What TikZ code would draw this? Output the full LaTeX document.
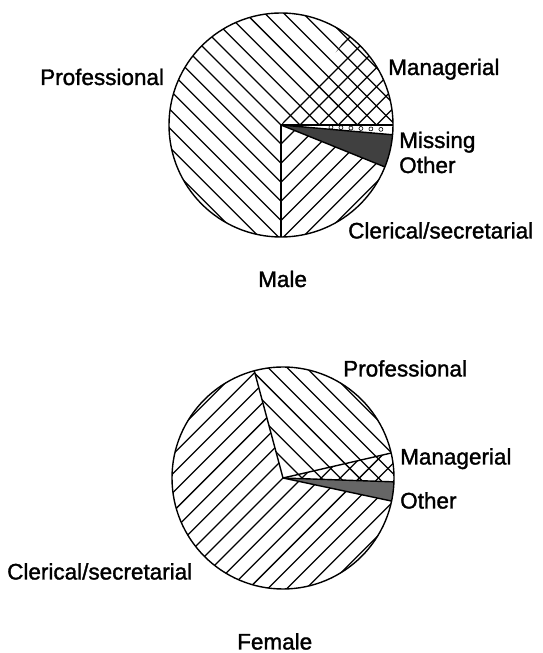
\documentclass[tikz,border=0pt]{standalone}
\usepackage{fontspec}
\setmainfont{Liberation Sans}[UprightFeatures={FakeBold=1.5}]
\usepackage{tikz}
\tikzset{
    every node/.style={font=\fontsize{22.5}{27}\selectfont, inner sep=0pt, anchor=base west},
    rim/.style={line width=1.4pt},
    hatch/.style={line width=1.25pt},
    dotmark/.style={line width=0.6pt, fill=white}
}

\begin{document}
\begin{tikzpicture}[x=1pt,y=1pt]
    \useasboundingbox (0,0) rectangle (543,653);

    % Male pie
    \coordinate (mc) at (281,528);
    % professional (\\ lines)
    \begin{scope}
        \clip (mc) -- ++(53:112) arc[start angle=53,end angle=270,radius=112] -- cycle;
        \foreach \k in {-12,...,12}
            \draw[hatch,shift={(mc)}] (45:{\k*13.5}) ++(135:130) -- ++(-45:260);
    \end{scope}
    % managerial (crosshatch)
    \begin{scope}
        \clip (mc) -- ++(0:112) arc[start angle=0,end angle=53,radius=112] -- cycle;
        \foreach \k in {-12,...,12} {
            \draw[hatch,shift={(mc)}] (45:{\k*13.5}) ++(135:130) -- ++(-45:260);
            \draw[hatch,shift={(mc)}] (135:{\k*13.5}) ++(225:130) -- ++(45:260);
        }
    \end{scope}
    % clerical/secretarial (/ lines)
    \begin{scope}
        \clip (mc) -- ++(270:112) arc[start angle=270,end angle=338,radius=112] -- cycle;
        \foreach \k in {-12,...,12}
            \draw[hatch,shift={(mc)}] (135:{\k*13.5}) ++(225:130) -- ++(45:260);
    \end{scope}
    % other
    \fill[black!75] (mc) -- ++(338:112) arc[start angle=338,end angle=355,radius=112] -- cycle;
    % missing (dots)
    \foreach \r in {50,60,...,105}
        \draw[dotmark,shift={(mc)}] (-2.5:\r) circle (2);
    \draw[rim] (mc) -- ++(0:112);
    \draw[rim] (mc) -- ++(355:112);
    \draw[rim] (mc) -- ++(338:112);
    \draw[rim] (mc) -- ++(270:112);
    \draw[rim] (mc) circle (112);

    % Female pie
    \coordinate (fc) at (283,175);
    % professional (\\ lines)
    \begin{scope}
        \clip (fc) -- ++(13:111) arc[start angle=13,end angle=105,radius=111] -- cycle;
        \foreach \k in {-12,...,12}
            \draw[hatch,shift={(fc)}] (45:{\k*13.5}) ++(135:130) -- ++(-45:260);
    \end{scope}
    % managerial (crosshatch)
    \begin{scope}
        \clip (fc) -- ++(-2:111) arc[start angle=-2,end angle=13,radius=111] -- cycle;
        \foreach \k in {-12,...,12} {
            \draw[hatch,shift={(fc)}] (45:{\k*13.5}) ++(135:130) -- ++(-45:260);
            \draw[hatch,shift={(fc)}] (135:{\k*13.5}) ++(225:130) -- ++(45:260);
        }
    \end{scope}
    % clerical/secretarial (/ lines)
    \begin{scope}
        \clip (fc) -- ++(105:111) arc[start angle=105,end angle=348,radius=111] -- cycle;
        \foreach \k in {-12,...,12}
            \draw[hatch,shift={(fc)}] (135:{\k*13.5}) ++(225:130) -- ++(45:260);
    \end{scope}
    % other
    \fill[black!60] (fc) -- ++(348:111) arc[start angle=348,end angle=358,radius=111] -- cycle;
    \draw[rim] (fc) -- ++(105:111);
    \draw[rim] (fc) -- ++(13:111);
    \draw[rim] (fc) -- ++(358:111);
    \draw[rim] (fc) -- ++(348:111);
    \draw[rim] (fc) circle (111);

    % Labels
    \node (mprof) at (40,568) {Professional};
    \node (mman) at (388,578) {Managerial};
    \node (mmiss) at (399,505) {Missing};
    \node (moth) at (399,480) {Other};
    \node (mcler) at (348,414.5) {Clerical/secretarial};
    \node (male) at (258,366) {Male};
    \node (fprof) at (343,276.5) {Professional};
    \node (fman) at (400,188.5) {Managerial};
    \node (foth) at (400,144.5) {Other};
    \node (fcler) at (7,73.5) {Clerical/secretarial};
    \node (female) at (237,3.5) {Female};
\end{tikzpicture}
\end{document}
